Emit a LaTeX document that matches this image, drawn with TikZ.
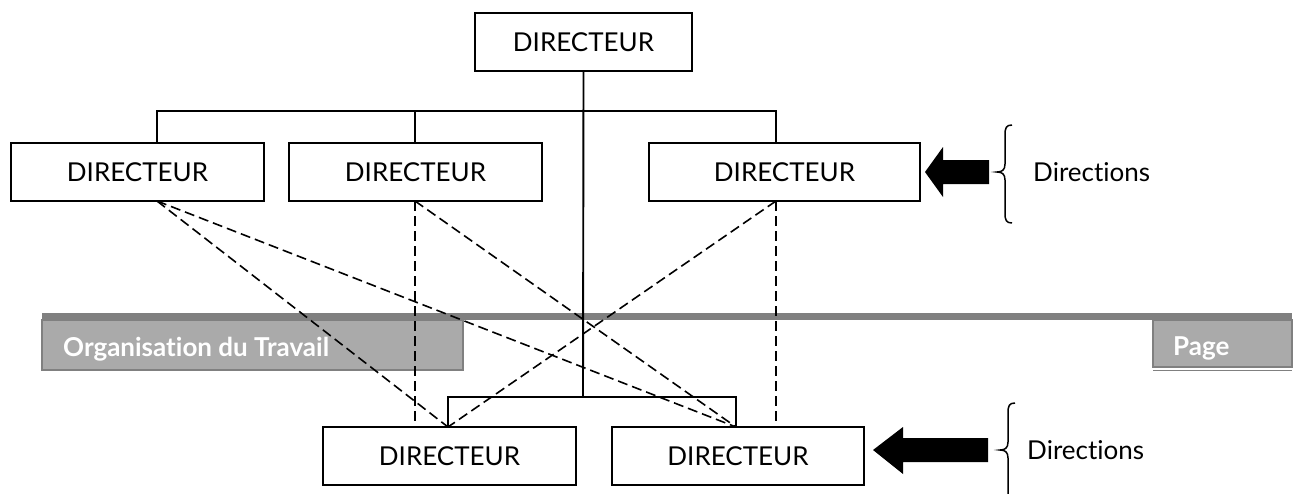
\documentclass[tikz,border=0pt]{standalone}
\usepackage{fontspec}
\setmainfont{Lato}[Ligatures=NoCommon]
\definecolor{barline}{HTML}{808080}
\definecolor{barfill}{HTML}{AAAAAA}
\begin{document}
\begin{tikzpicture}[x=1pt,y=-1pt,
  box/.style={draw,line width=1.9pt,minimum height=58pt,inner sep=0pt,
    font=\fontsize{26}{30}\selectfont},
  link/.style={line width=1.9pt},
  rel/.style={line width=1.6pt,dash pattern=on 10pt off 5pt},
  bigarrow/.style={fill=black},
  curly/.style={line width=1.5pt},
  tag/.style={font=\fontsize{26}{30}\selectfont,anchor=west,inner sep=0pt},
  footer/.style={fill=barfill,draw=barline,line width=1.5pt},
  footertext/.style={anchor=base west,text=white,inner sep=0pt,
    font=\bfseries\fontsize{26}{30}\selectfont}]
\clip (0,0) rectangle (1298,493);

% page footer band
\fill[barline] (42,313) rectangle (1292,320);
\draw[footer] (42,320) rectangle (463,370);
\node[footertext] (org) at (63,356) {Organisation du Travail};
\draw[footer] (1153,320) rectangle (1292,367);
\draw[barline,line width=1pt] (1153,370.5) -- (1292,370.5);
\node[footertext] (page) at (1173,355) {Page};

% boxes
\node[box,minimum width=217pt] (top) at (583.5,42) {DIRECTEUR};
\node[box,minimum width=253pt] (a) at (137.5,172) {DIRECTEUR};
\node[box,minimum width=253pt] (b) at (415.5,172) {DIRECTEUR};
\node[box,minimum width=271pt] (c) at (784.5,172) {DIRECTEUR};
\node[box,minimum width=253pt] (d) at (449.5,456) {DIRECTEUR};
\node[box,minimum width=252pt] (e) at (738,456) {DIRECTEUR};

% attachment points
\coordinate (aT) at (157,143);
\coordinate (aB) at (157,201);
\coordinate (bT) at (415,143);
\coordinate (bB) at (415,201);
\coordinate (cT) at (776,143);
\coordinate (cB) at (776,201);
\coordinate (busA) at (157,111);
\coordinate (busB) at (415,111);
\coordinate (busC) at (776,111);
\coordinate (hub) at (583,397);
\coordinate (hubD) at (448,397);
\coordinate (hubE) at (736,397);
\coordinate (dT) at (448,427);
\coordinate (dL) at (415,427);
\coordinate (eT) at (736,427);
\coordinate (eR) at (776,427);

% hierarchy
\draw[link] (top.south) -- (hub);
\draw[link] (aT) -- (busA) -- (busC) -- (cT);
\draw[link] (bT) -- (busB);
\draw[link] (dT) -- (hubD) -- (hubE) -- (eT);

% functional relations
\draw[rel] (aB) -- (dT);
\draw[rel] (aB) -- (eT);
\draw[rel] (bB) -- (dL);
\draw[rel] (bB) -- (eT);
\draw[rel] (cB) -- (dT);
\draw[rel] (cB) -- (eR);

% pointers
\fill[bigarrow] (925,172) -- (943,147) -- (943,160) -- (989,160) -- (989,184)
  -- (943,184) -- (943,197) -- cycle;
\fill[bigarrow] (873,450) -- (903,427) -- (903,438) -- (988,438) -- (988,462)
  -- (903,462) -- (903,474) -- cycle;

% braces
\draw[curly] (1012,125) .. controls (1006,125) and (1005,128) .. (1005,135)
  -- (1005,164) .. controls (1005,170) and (1002,172) .. (997,172)
  .. controls (1002,172) and (1005,174) .. (1005,180)
  -- (1005,213) .. controls (1005,220) and (1006,223) .. (1012,223);
\draw[curly] (1015,403) .. controls (1009,403) and (1008,406) .. (1008,413)
  -- (1008,442) .. controls (1008,448) and (1005,450) .. (1000,450)
  .. controls (1005,450) and (1008,452) .. (1008,458)
  -- (1008,500);

\node[tag] (dir1) at (1033,172) {Directions};
\node[tag] (dir2) at (1027,450) {Directions};
\end{tikzpicture}
\end{document}
